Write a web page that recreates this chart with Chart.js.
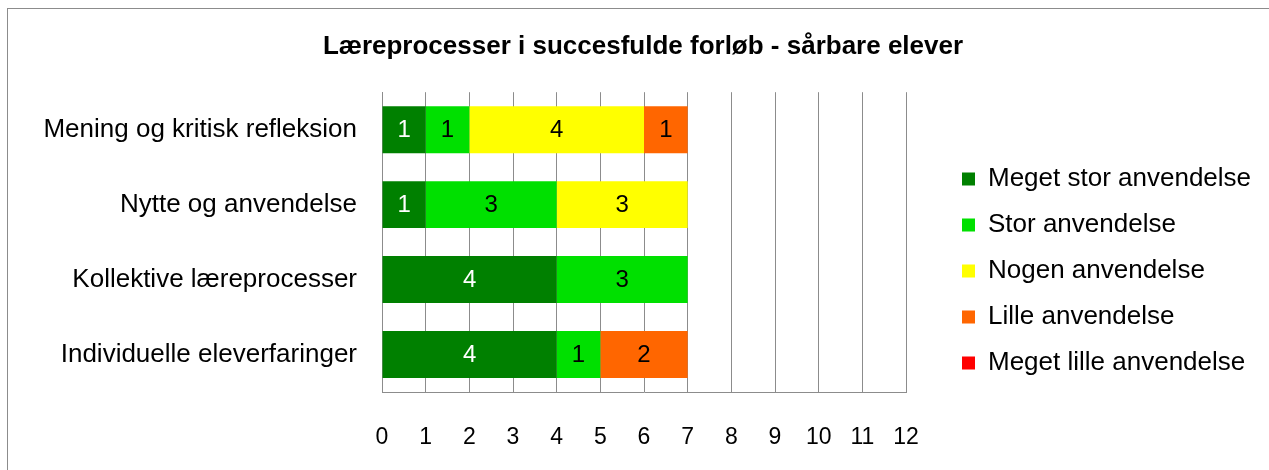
<!DOCTYPE html>
<html>
<head>
<meta charset="utf-8">
<script src="https://cdn.jsdelivr.net/npm/chart.js@4"></script>
<style>
    html, body { margin: 0; padding: 0; background: #fff; overflow: hidden; }
    #frame {
        position: absolute; left: 7px; top: 8px; width: 1400px; height: 600px;
        border: 1px solid #8c8c8c; box-sizing: border-box;
    }
    #wrap { position: absolute; left: 0; top: 0; width: 1269px; height: 470px; }
</style>
</head>
<body>
<div id="frame"></div>
<div id="wrap"><canvas id="chart"></canvas></div>
<script>
// Categories (top to bottom)
const categories = [
    'Mening og kritisk refleksion',
    'Nytte og anvendelse',
    'Kollektive læreprocesser',
    'Individuelle eleverfaringer'
];

// Series values per category
const megetStor = [1, 1, 4, 4];
const stor = [1, 3, 3, 1];
const nogen = [4, 3, 0, 0];
const lille = [1, 0, 0, 2];
const megetLille = [0, 0, 0, 0];

const seriesNames = ['Meget stor anvendelse', 'Stor anvendelse', 'Nogen anvendelse', 'Lille anvendelse', 'Meget lille anvendelse'];
const seriesColors = ['#008000', '#00e000', '#ffff00', '#ff6600', '#ff0000'];
const labelColors = ['#ffffff', '#000000', '#000000', '#000000', '#000000'];

const xTicks = [0, 1, 2, 3, 4, 5, 6, 7, 8, 9, 10, 11, 12];

const FONT = "'Liberation Sans', Arial, sans-serif";

// Value labels in the middle of each segment
const barLabels = {
    id: 'barLabels',
    afterDatasetsDraw(chart) {
        const ctx = chart.ctx;
        ctx.save();
        ctx.font = '24px ' + FONT;
        ctx.textAlign = 'center';
        ctx.textBaseline = 'middle';
        chart.data.datasets.forEach((ds, i) => {
            const meta = chart.getDatasetMeta(i);
            meta.data.forEach((bar, j) => {
                const v = ds.data[j];
                if (!v) return;
                const x = (bar.x + bar.base) / 2;
                ctx.fillStyle = labelColors[i];
                ctx.fillText(String(v), x, bar.y + 1);
            });
        });
        ctx.restore();
    }
};

// Legend: fixed width box, items pushed away from the plot
const legendPlace = {
    id: 'legendPlace',
    beforeInit(chart) {
        const fit = chart.legend.fit;
        chart.legend.fit = function () {
            fit.call(this);
            this.width = 363;
        };
    },
    afterLayout(chart) {
        chart.legend.left += 36;
        chart.legend.top += 29;
        chart.legend.bottom += 29;
    }
};

const data = [megetStor, stor, nogen, lille, megetLille];

new Chart(document.getElementById('chart'), {
    type: 'bar',
    data: {
        labels: categories,
        datasets: data.map((d, i) => ({
            label: seriesNames[i],
            data: d,
            backgroundColor: seriesColors[i],
            borderWidth: 0,
            barPercentage: 1,
            categoryPercentage: 0.627
        }))
    },
    options: {
        indexAxis: 'y',
        responsive: true,
        maintainAspectRatio: false,
        animation: false,
        layout: {
            padding: { left: 17, right: 0, top: 0, bottom: 0 }
        },
        plugins: {
            title: {
                display: true,
                text: 'Læreprocesser i succesfulde forløb - sårbare elever',
                color: '#000',
                font: { family: FONT, size: 26, weight: 'bold' },
                padding: { top: 31, bottom: 30 }
            },
            legend: {
                position: 'right',
                align: 'center',
                fullSize: false,
                labels: {
                    color: '#000',
                    boxWidth: 13,
                    boxHeight: 13,
                    padding: 20,
                    font: { family: FONT, size: 26 }
                }
            },
            tooltip: { enabled: false }
        },
        scales: {
            x: {
                stacked: true,
                min: 0,
                max: 12,
                afterBuildTicks: axis => { axis.ticks = xTicks.map(v => ({ value: v })); },
                afterFit: axis => { axis.height = 78; },
                grid: { color: '#8c8c8c', drawTicks: false },
                border: { color: '#8c8c8c' },
                ticks: {
                    color: '#000',
                    padding: 32,
                    font: { family: FONT, size: 23 }
                }
            },
            y: {
                stacked: true,
                afterFit: axis => { axis.width = 365; },
                grid: { display: false, drawTicks: false },
                border: { color: '#8c8c8c' },
                ticks: {
                    color: '#000',
                    padding: 25,
                    font: { family: FONT, size: 26 }
                }
            }
        }
    },
    plugins: [barLabels, legendPlace]
});
</script>
</body>
</html>
